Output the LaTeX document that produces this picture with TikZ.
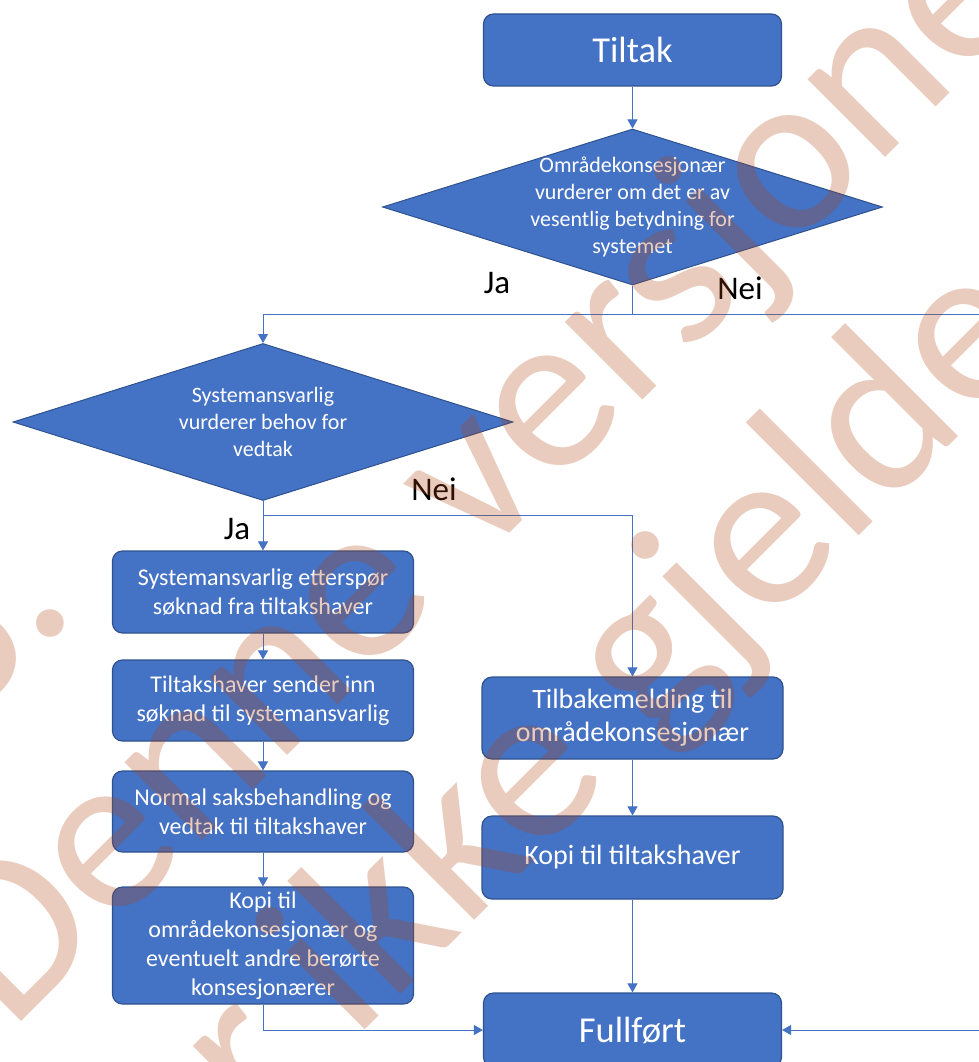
\documentclass[tikz,border=0pt]{standalone}
\usepackage{fontspec}
\setmainfont{Carlito}
\newfontfamily\wmfont{Carlito}
\usetikzlibrary{shapes.geometric,arrows.meta}
\definecolor{obl}{RGB}{68,114,196}
\definecolor{obd}{RGB}{47,82,143}
\definecolor{wmc}{RGB}{174,67,15}
\begin{document}
\begin{tikzpicture}[x=1pt,y=-1pt,
  box/.style={draw=obd, line width=1.2pt, fill=obl, rounded corners=10pt, text=white, align=center, inner sep=0pt, minimum width=301pt},
  dia/.style={draw=obd, line width=1pt, fill=obl, shape=diamond, inner sep=0pt, minimum width=500pt, minimum height=157pt},
  dtext/.style={text=white, align=center, inner sep=0pt, font=\fontsize{22}{26.8}\selectfont},
  conn/.style={draw=obl, line width=1pt, -{Triangle[width=10pt,length=9pt]}},
  plain/.style={draw=obl, line width=1pt},
  lab/.style={text=black, inner sep=0pt, font=\fontsize{33}{38}\selectfont},
  wm/.style={rotate=45, anchor=base west, inner sep=0pt, text=wmc, text opacity=0.27, font=\wmfont\fontsize{230}{249}\selectfont}
]
\fill[white] (0,0) rectangle (978,1062);
\useasboundingbox (0,0) rectangle (978,1062);

% nodes
\node[box, minimum width=298pt, minimum height=72pt, font=\fontsize{36.5}{43}\selectfont] (tiltak) at (632.5,50) {Tiltak};
\node[dia, minimum height=156pt] (d1) at (632.5,207) {};
\node[dtext] (d1t) at (632.5,207) {Områdekonsesjonær\\vurderer om det er av\\vesentlig betydning for\\systemet};
\node[dia] (d2) at (263,422) {};
\node[dtext] (d2t) at (263,422) {Systemansvarlig\\vurderer behov for\\vedtak};

\node[box, minimum height=82pt, font=\fontsize{24}{29}\selectfont] (a) at (263,592) {Systemansvarlig etterspør\\søknad fra tiltakshaver};
\node[box, minimum height=81pt, font=\fontsize{24}{29}\selectfont] (b) at (263,700.5) {Tiltakshaver sender inn\\søknad til systemansvarlig};
\node[box, minimum height=81pt, font=\fontsize{24}{29}\selectfont] (c) at (263,811.5) {Normal saksbehandling og\\vedtak til tiltakshaver};
\node[box, minimum height=117pt, font=\fontsize{24}{29}\selectfont] (dd) at (263,945.5) {Kopi til\\områdekonsesjonær og\\eventuelt andre berørte\\konsesjonærer};

\node[box, minimum height=82pt, font=\fontsize{28}{33}\selectfont] (tilb) at (632.5,718) {Tilbakemelding til\\områdekonsesjonær};
\node[box, minimum height=83pt, font=\fontsize{28}{33}\selectfont] (kopi) at (632.5,857.5) {Kopi til tiltakshaver};
\node[box, minimum width=298pt, minimum height=74pt, font=\fontsize{36.5}{43}\selectfont] (full) at (632.5,1030) {Fullført};

% labels
\node[lab] (ja1) at (497,283) {Ja};
\node[lab] (nei1) at (740,288) {Nei};
\node[lab] (nei2) at (434,489) {Nei};
\node[lab] (ja2) at (237,529) {Ja};

% connectors
\draw[conn] (tiltak.south) -- (d1.north);
\path (d1.south) ++(0,29) coordinate (j1);
\draw[plain] (d1.south) -- (j1);
\draw[conn] (j1) -| (d2.north);
\coordinate (offr) at (1000,0);
\draw[conn] (j1) -- (j1 -| offr) -- (offr |- full.east) -- (full.east);

\path (d2.south) ++(0,14) coordinate (j2);
\draw[plain] (d2.south) -- (j2);
\draw[conn] (j2) -- (a.north);
\draw[conn] (j2) -| (tilb.north);
\draw[conn] (a) -- (b);
\draw[conn] (b) -- (c);
\draw[conn] (c) -- (dd);
\draw[conn] (dd.south) |- (full.west);
\draw[conn] (tilb) -- (kopi);
\draw[conn] (kopi) -- (full);

% watermark
\node[wm] (wm1) at (-232,923) {OBS.};
\node[wm] (wm2) at (10,1033) {Denne versjonen};
\node[wm] (wm3) at (179,1216) {er ikke gjeldende};
\end{tikzpicture}
\end{document}
